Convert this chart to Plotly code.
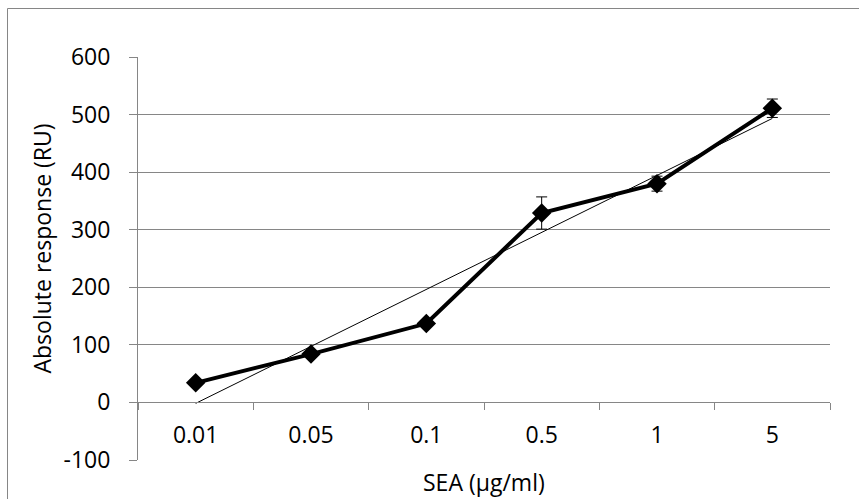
import numpy as np
import plotly.graph_objects as go

conc = ["0.01", "0.05", "0.1", "0.5", "1", "5"]
resp = [34, 84, 137, 329, 380, 511]
err = [4, 5, 5, 28, 13, 16]
yticks = [-100, 0, 100, 200, 300, 400, 500, 600]
ytick_labels = ["-100", "0", "100", "200", "300", "400", "500", "600"]

idx = np.arange(len(conc))
slope, intercept = np.polyfit(idx, resp, 1)
trend_y = [intercept + slope * idx[0], intercept + slope * idx[-1]]

GRID = "#868686"
FONT = "Open Sans"

fig = go.Figure()
fig.add_trace(go.Scatter(
    x=conc, y=resp, mode="lines+markers",
    line=dict(color="black", width=4),
    marker=dict(symbol="diamond", size=15, color="black"),
    error_y=dict(type="data", array=err, visible=True, color="black", thickness=1, width=5.5),
    showlegend=False, cliponaxis=False,
))
fig.add_trace(go.Scatter(
    x=[conc[0], conc[-1]], y=trend_y, mode="lines",
    line=dict(color="black", width=1), showlegend=False, hoverinfo="skip",
))

fig.update_layout(
    width=859, height=499,
    margin=dict(l=138, r=29, t=57, b=39, pad=0),
    plot_bgcolor="white", paper_bgcolor="white",
    font=dict(family=FONT, size=23, color="black"),
    xaxis=dict(
        type="category", categoryorder="array", categoryarray=conc,
        range=[-0.5, len(conc) - 0.5],
        anchor="free", position=1/7,
        showgrid=False, zeroline=False,
        showline=True, linecolor=GRID, linewidth=1,
        ticks="outside", ticklen=7, tickcolor=GRID, tickwidth=1,
        tickson="boundaries", ticklabelstandoff=12,
        tickfont=dict(family=FONT, size=23, color="black"),
    ),
    yaxis=dict(
        range=[-100, 600], tickvals=yticks, ticktext=ytick_labels,
        showgrid=True, gridcolor=GRID, gridwidth=1,
        zeroline=False,
        showline=True, linecolor=GRID, linewidth=1,
        ticks="outside", ticklen=8, tickcolor=GRID, tickwidth=1,
        ticklabelstandoff=14,
        tickfont=dict(family=FONT, size=23, color="black"),
    ),
    annotations=[
        dict(text="Absolute response (RU)", textangle=-90,
             xref="paper", yref="paper",
             x=(41 - 138) / 692, y=(460 - 248.5) / 403,
             showarrow=False, xanchor="center", yanchor="middle",
             font=dict(family=FONT, size=23, color="black")),
        dict(text="SEA (µg/ml)",
             xref="paper", yref="paper",
             x=(484 - 138) / 692, y=(460 - 482) / 403,
             showarrow=False, xanchor="center", yanchor="middle",
             font=dict(family=FONT, size=23, color="black")),
    ],
    shapes=[
        dict(type="rect", xref="paper", yref="paper",
             x0=(7.5 - 138) / 692, x1=(880 - 138) / 692,
             y0=(460 - 520) / 403, y1=(460 - 8.5) / 403,
             line=dict(color=GRID, width=1), fillcolor="rgba(0,0,0,0)", layer="below"),
    ],
)

fig.write_html("out.html")
